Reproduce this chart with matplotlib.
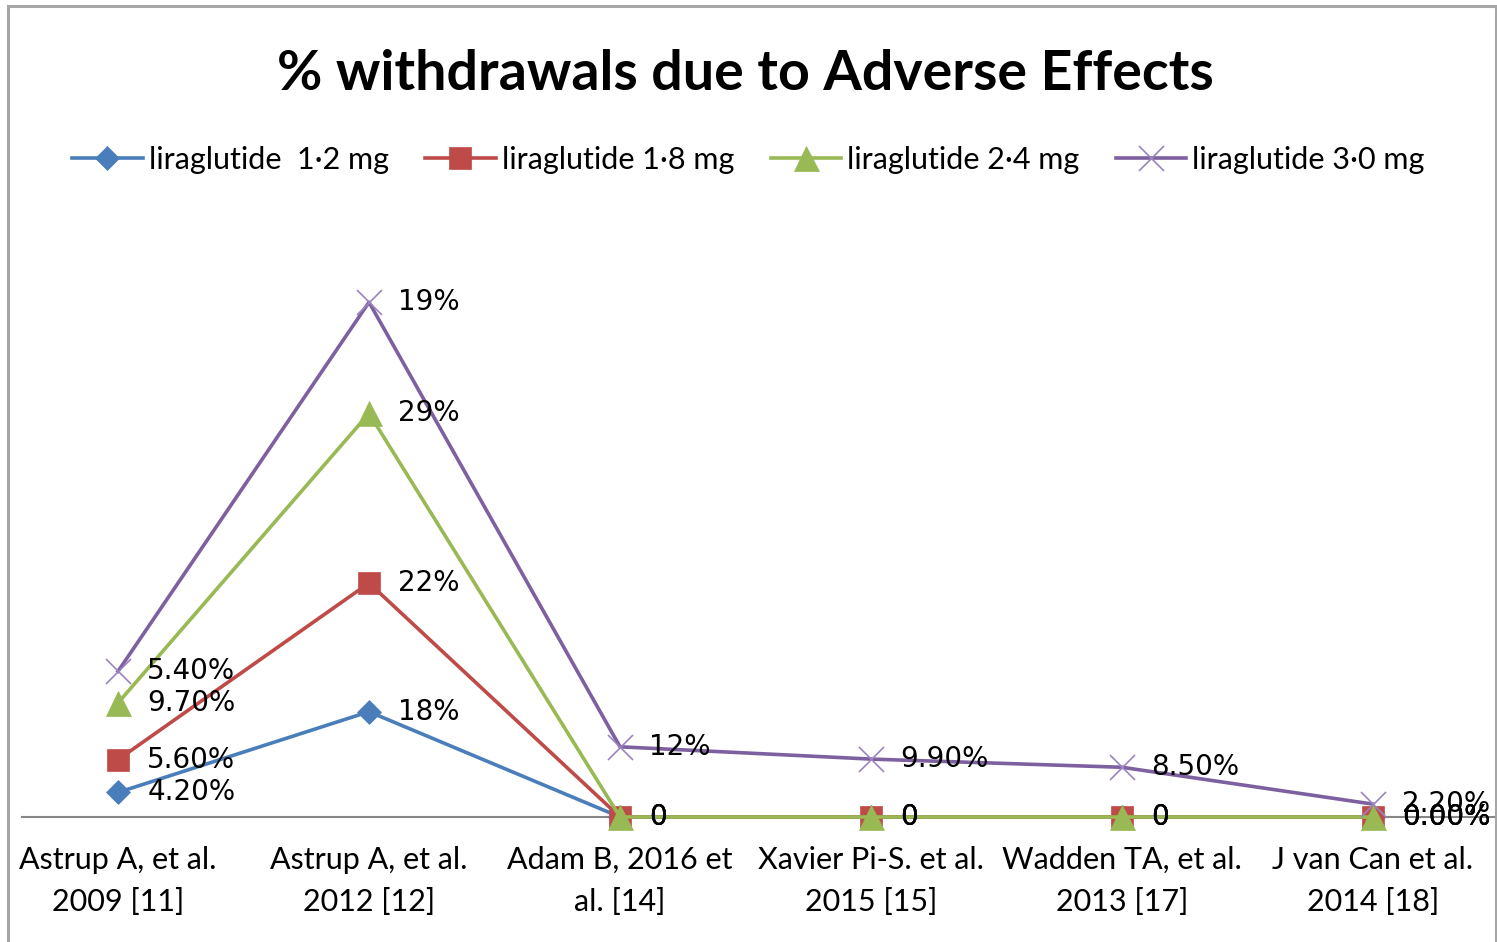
import numpy as np
import matplotlib
matplotlib.use("Agg")
import matplotlib.pyplot as plt
from matplotlib.patches import Rectangle

# etudes (axe des categories)
etudes = ["Astrup A, et al.\n2009 [11]", "Astrup A, et al.\n2012 [12]",
          "Adam B, 2016 et\nal. [14]", "Xavier Pi-S. et al.\n2015 [15]",
          "Wadden TA, et al.\n2013 [17]", "J van Can et al.\n2014 [18]"]

# % d'arrets pour effets indesirables, par dose
lira_12 = [4.2, 18, 0, 0, 0, 0]
lira_18 = [5.6, 22, 0, 0, 0, 0]
lira_24 = [9.7, 29, 0, 0, 0, 0]
lira_30 = [5.4, 19, 12, 9.9, 8.5, 2.2]

# etiquettes telles qu'affichees
lab_12 = ["4.20%", "18%", "0", "0", "0", "0.00%"]
lab_18 = ["5.60%", "22%", "0", "0", "0", "0.00%"]
lab_24 = ["9.70%", "29%", "0", "0", "0", "0.00%"]
lab_30 = ["5.40%", "19%", "12%", "9.90%", "8.50%", "2.20%"]

noms = ["liraglutide  1\u00b72 mg", "liraglutide 1\u00b78 mg",
        "liraglutide 2\u00b74 mg", "liraglutide 3\u00b70 mg"]

series = [lira_12, lira_18, lira_24, lira_30]
labels = [lab_12, lab_18, lab_24, lab_30]
couleurs = ["#4A7EBB", "#BE4B48", "#98B954", "#7D60A0"]
marqueurs = [("D", 12, "#4A7EBB"), ("s", 16, "#BE4B48"),
             ("^", 18, "#98B954"), ("x", 18, "#9A84C0")]

fig = plt.figure(figsize=(14.97, 9.42), dpi=100)
fig.patches.append(Rectangle((8 / 1497, -0.01), (1496 - 8) / 1497, 1.01 - 6 / 942,
                             transform=fig.transFigure, fill=False,
                             edgecolor="#A6A6A6", linewidth=2.2))

ax = fig.add_axes([22 / 1497, (942 - 817) / 942, 1 - 22 / 1497, 585 / 942])
x = np.arange(len(etudes))

# graphique en lignes empilees
cumul = np.zeros(len(etudes))
lignes = []
for i, s in enumerate(series):
    cumul = cumul + np.array(s)
    m, ms, mc = marqueurs[i]
    l, = ax.plot(x, cumul, color=couleurs[i], linewidth=2.6, marker=m,
                 markersize=ms, markerfacecolor=mc, markeredgecolor=mc,
                 markeredgewidth=1.2 if m == "x" else 0.5, label=noms[i],
                 zorder=3 + i, clip_on=False)
    lignes.append(l)
    for xi, yi, t in zip(x, cumul, labels[i]):
        ax.annotate(t, (xi, yi), xytext=(21, 0), textcoords="offset points",
                    va="center", ha="left", fontsize=20,
                    family="DejaVu Sans", color="#000000", zorder=10,
                    annotation_clip=False)

ax.set_xlim((22 - 118) / 251, (1497 - 118) / 251)
ax.set_ylim(0, 100)
for sp in ["top", "right", "left"]:
    ax.spines[sp].set_visible(False)
ax.spines["bottom"].set_color("#868686")
ax.spines["bottom"].set_linewidth(1.5)
ax.set_yticks([])
ax.set_xticks(x)
ax.set_xticklabels(etudes, fontsize=22, family="Lato", linespacing=1.6)
ax.tick_params(axis="x", length=0, pad=21)

fig.text(0.498, 0.921, "% withdrawals due to Adverse Effects", ha="center",
         va="center", fontsize=40, fontweight="bold", family="Lato")

fig.legend(handles=lignes, loc="center", bbox_to_anchor=(0.50, 0.830), ncol=4,
           frameon=False, handlelength=2.3, columnspacing=1.2,
           handletextpad=0.2, prop={"family": "Lato", "size": 22})

fig.savefig("out.png", dpi=100)
